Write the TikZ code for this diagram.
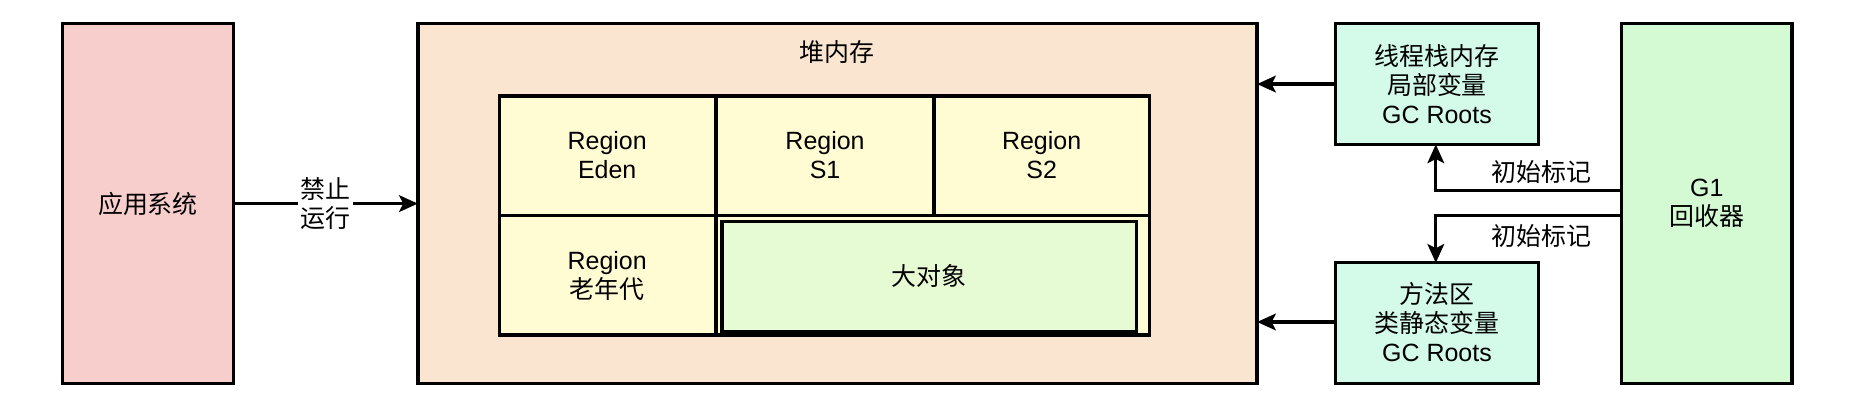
\documentclass[tikz,border=0pt]{standalone}
\usepackage{fontspec}
\setmainfont{Liberation Sans}
\newfontfamily\cjk{Noto Sans CJK SC}
\usepackage{tikz}
\usetikzlibrary{positioning,arrows.meta}
\definecolor{appRed}{HTML}{F8CECC}
\definecolor{heapOrange}{HTML}{FAE6D0}
\definecolor{regionYellow}{HTML}{FFFBD2}
\definecolor{bigGreen}{HTML}{E6FAD4}
\definecolor{rootMint}{HTML}{D4FAEA}
\definecolor{gcGreen}{HTML}{D4FAD4}
\begin{document}
\begin{tikzpicture}[x=0.02cm, y=-0.02cm, >={Stealth[length=9pt,width=8pt,inset=2pt]},
                    every node/.style={font=\fontsize{12}{14}\selectfont, align=center},
                    box/.style={draw=black, line width=1.6pt},
                    every path/.style={line width=1.6pt}]
\useasboundingbox (0,0) rectangle (1568,343);
% outer blocks
\draw[box, fill=appRed] (53,20) rectangle (197,324);
\node (app) at (125,172) {\cjk 应用系统};
\draw[box, fill=heapOrange] (353,20) rectangle (1062,324);
\node (heap) at (707,44) {\cjk 堆内存};
\coordinate (heapL) at (353,172);
\coordinate (heapR1) at (1062,71);
\coordinate (heapR2) at (1062,272);
% regions
\draw[box, fill=regionYellow] (422,81) rectangle (605,182);
\draw[box, fill=regionYellow] (605,81) rectangle (789,182);
\draw[box, fill=regionYellow] (789,81) rectangle (971,182);
\draw[box, fill=regionYellow] (422,182) rectangle (605,283);
\draw[box, fill=regionYellow] (605,182) rectangle (971,283);
\draw[box, fill=bigGreen] (610,187) rectangle (960,280);
\node (eden) at (513,131) {Region\\Eden};
\node (s1) at (697,131) {Region\\S1};
\node (s2) at (880,131) {Region\\S2};
\node (old) at (513,233) {Region\\{\cjk 老年代}};
\node (big) at (785,233) {\cjk 大对象};
% roots and collector
\draw[box, fill=rootMint] (1128,20) rectangle (1300,122);
\node (stack) at (1214,71) {{\cjk 线程栈内存}\\{\cjk 局部变量}\\GC Roots};
\draw[box, fill=rootMint] (1128,222) rectangle (1300,324);
\node (method) at (1214,272) {{\cjk 方法区}\\{\cjk 类静态变量}\\GC Roots};
\draw[box, fill=gcGreen] (1370,20) rectangle (1514,324);
\node (g1) at (1442,172) {G1\\{\cjk 回收器}};
% connectors
\draw[->] (197,172) -- node[fill=white, inner sep=1pt] {{\cjk 禁止}\\{\cjk 运行}} (heapL);
\draw[->] (1128,71) -- (heapR1);
\draw[->] (1128,272) -- (heapR2);
\draw[->] (1370,161) -| (1213,122);
\draw[->] (1370,182) -| (1213,222);
\node (mark1) at (1302,145) {\cjk 初始标记};
\node (mark2) at (1302,199) {\cjk 初始标记};
\end{tikzpicture}
\end{document}
